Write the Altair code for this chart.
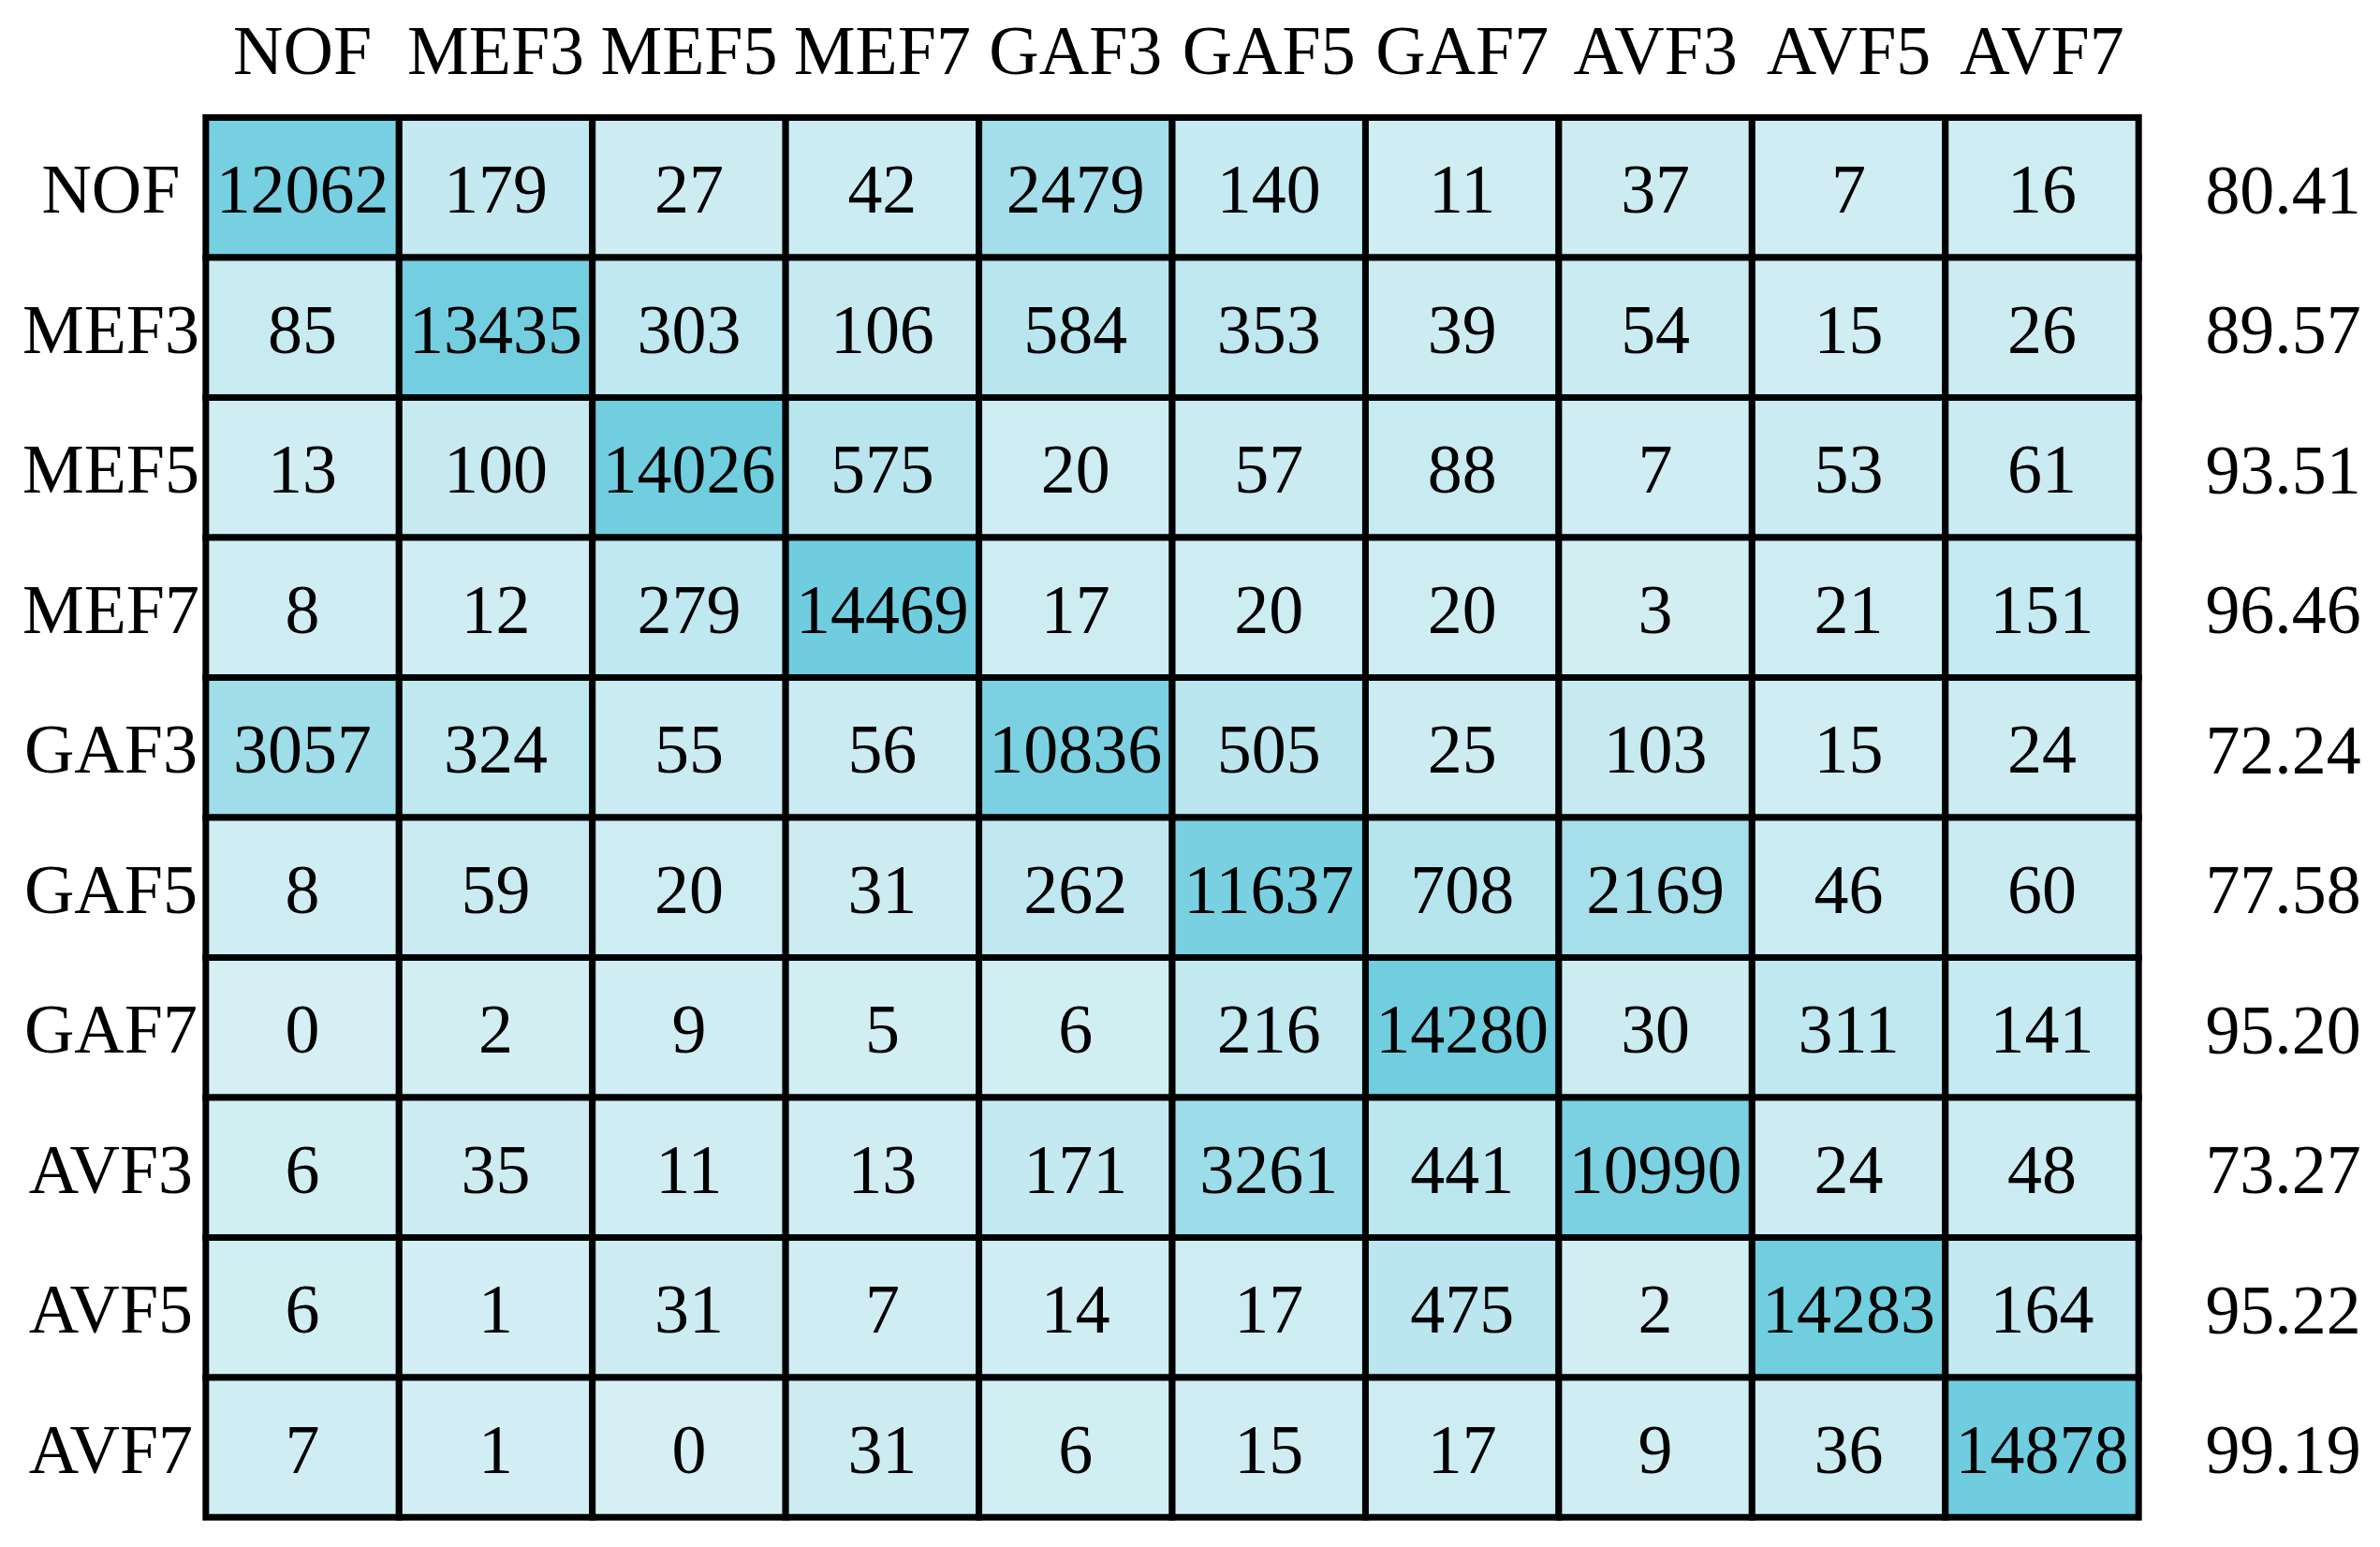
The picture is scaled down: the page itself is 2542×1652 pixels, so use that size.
import altair as alt
import pandas as pd

classes = ["NOF", "MEF3", "MEF5", "MEF7", "GAF3", "GAF5", "GAF7", "AVF3", "AVF5", "AVF7"]

row_NOF = [12062, 179, 27, 42, 2479, 140, 11, 37, 7, 16]
row_MEF3 = [85, 13435, 303, 106, 584, 353, 39, 54, 15, 26]
row_MEF5 = [13, 100, 14026, 575, 20, 57, 88, 7, 53, 61]
row_MEF7 = [8, 12, 279, 14469, 17, 20, 20, 3, 21, 151]
row_GAF3 = [3057, 324, 55, 56, 10836, 505, 25, 103, 15, 24]
row_GAF5 = [8, 59, 20, 31, 262, 11637, 708, 2169, 46, 60]
row_GAF7 = [0, 2, 9, 5, 6, 216, 14280, 30, 311, 141]
row_AVF3 = [6, 35, 11, 13, 171, 3261, 441, 10990, 24, 48]
row_AVF5 = [6, 1, 31, 7, 14, 17, 475, 2, 14283, 164]
row_AVF7 = [7, 1, 0, 31, 6, 15, 17, 9, 36, 14878]

accuracy = ["80.41", "89.57", "93.51", "96.46", "72.24", "77.58", "95.20", "73.27", "95.22", "99.19"]

matrix = [row_NOF, row_MEF3, row_MEF5, row_MEF7, row_GAF3,
          row_GAF5, row_GAF7, row_AVF3, row_AVF5, row_AVF7]

records = []
for r, row in zip(classes, matrix):
    for c, v in zip(classes, row):
        records.append({"actual": r, "pred": c, "count": v})
df = pd.DataFrame(records)

FONT = "Liberation Serif"
FS = 74

cls_js = "[" + ",".join("'%s'" % c for c in classes) + "]"
acc_js = "[" + ",".join("'%s'" % a for a in accuracy) + "]"
acc_expr = acc_js + "[indexof(" + cls_js + ", datum.value)]"

x_enc = alt.X(
    "pred:N",
    sort=classes,
    scale=alt.Scale(domain=classes, paddingInner=0, paddingOuter=0),
    axis=alt.Axis(
        orient="top", title=None, ticks=False, domain=False, grid=False,
        labelAngle=0, labelFont=FONT, labelFontSize=FS, labelColor="black",
        labelPadding=47, labelBaseline="alphabetic", labelLimit=0,
    ),
)

y_left = alt.Y(
    "actual:N",
    sort=classes,
    scale=alt.Scale(domain=classes, paddingInner=0, paddingOuter=0),
    axis=alt.Axis(
        orient="left", title=None, ticks=False, domain=False, grid=False,
        labelFont=FONT, labelFontSize=FS, labelColor="black",
        labelAlign="center", labelBaseline="middle", labelPadding=102,
        labelOffset=5, labelLimit=0,
    ),
)

y_right = alt.Y(
    "actual:N",
    sort=classes,
    scale=alt.Scale(domain=classes, paddingInner=0, paddingOuter=0),
    axis=alt.Axis(
        orient="right", title=None, ticks=False, domain=False, grid=False,
        labelFont=FONT, labelFontSize=FS, labelColor="black",
        labelAlign="center", labelBaseline="middle", labelPadding=154,
        labelOffset=5, labelLimit=0, labelExpr=acc_expr,
    ),
)

rect = alt.Chart(df).mark_rect(stroke="black", strokeWidth=7).encode(
    x=x_enc,
    y=y_left,
    color=alt.Color(
        "count:Q",
        scale=alt.Scale(type="pow", exponent=0.4, domain=[0, 14878],
                        range=["#d5eff4", "#6fcddf"], interpolate="rgb"),
        legend=None,
    ),
)

text = alt.Chart(df).mark_text(
    font=FONT, fontSize=FS, color="black", baseline="middle", align="center", dy=5
).encode(
    x=x_enc,
    y=y_right,
    text=alt.Text("count:Q", format="d"),
)

chart = (
    alt.layer(rect, text)
    .resolve_scale(y="independent")
    .properties(
        width=2066,
        height=1496,
        autosize=alt.AutoSizeParams(type="none"),
        padding={"left": 212, "top": 117, "right": 250, "bottom": 20},
        background="white",
    )
    .configure_view(stroke=None)
)

chart.save("out.html", embed_options={"renderer": "svg", "actions": False})
